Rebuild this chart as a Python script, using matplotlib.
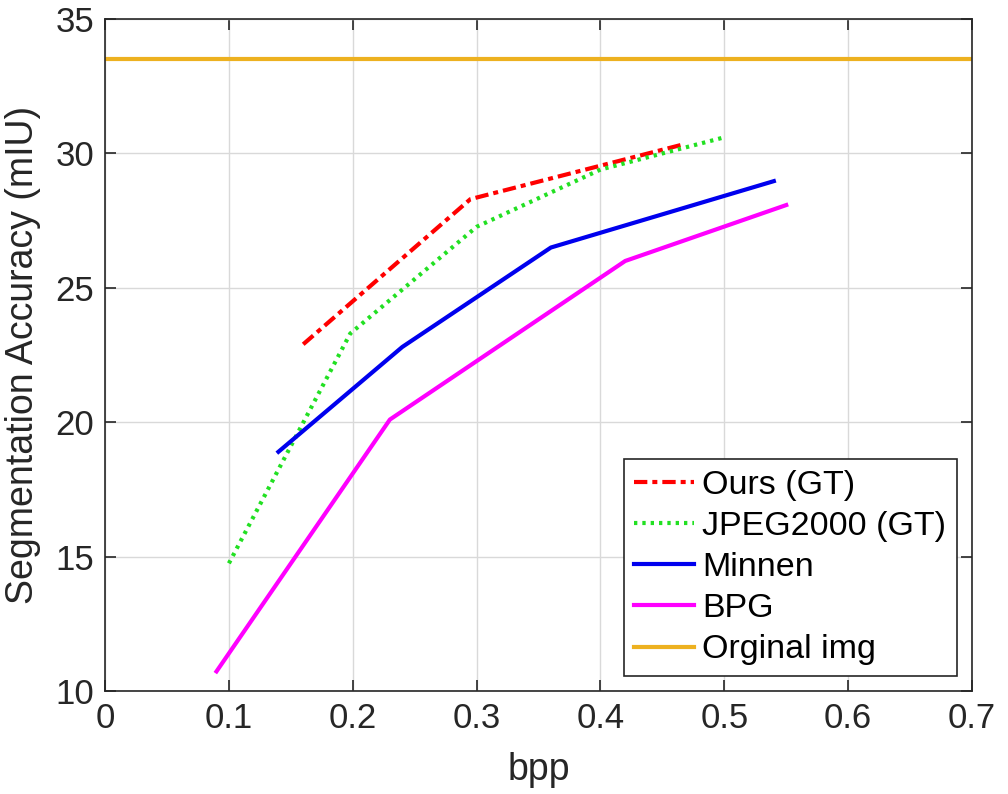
import matplotlib
matplotlib.use("Agg")
import matplotlib.pyplot as plt

plt.rcParams["font.family"] = ["Liberation Sans", "DejaVu Sans"]

# bpp vs segmentation mIoU
ours_bpp = [0.16, 0.295, 0.468]
ours_miou = [22.9, 28.3, 30.35]

jpeg_bpp = [0.10, 0.198, 0.30, 0.40, 0.50]
jpeg_miou = [14.75, 23.3, 27.27, 29.4, 30.6]

minnen_bpp = [0.14, 0.24, 0.36, 0.54]
minnen_miou = [18.9, 22.8, 26.5, 28.97]

bpg_bpp = [0.09, 0.23, 0.42, 0.55]
bpg_miou = [10.73, 20.1, 26.0, 28.08]

orig_miou = 33.5

TXT = "#262626"

fig = plt.figure(figsize=(10.08, 7.94), dpi=100)
ax = fig.add_axes([0.1042, 0.1297, 0.8601, 0.8463])

ax.plot(ours_bpp, ours_miou, color="red", linewidth=3.0,
        dashes=[3.2, 1.2, 1.2, 1.2], label="Ours (GT)")
ax.plot(jpeg_bpp, jpeg_miou, color="#22e022", linewidth=3.0,
        linestyle=(0, (0.8, 1.2)), label="JPEG2000 (GT)")
ax.plot(minnen_bpp, minnen_miou, color="#0000ee", linewidth=3.0, label="Minnen")
ax.plot(bpg_bpp, bpg_miou, color="#ff00ff", linewidth=3.0, label="BPG")
ax.axhline(orig_miou, color="#EDB120", linewidth=3.0, label="Orginal img")

ax.set_xlim(0, 0.7)
ax.set_ylim(10, 35)
ax.set_xticks([0, 0.1, 0.2, 0.3, 0.4, 0.5, 0.6, 0.7])
ax.set_xticklabels(["0", "0.1", "0.2", "0.3", "0.4", "0.5", "0.6", "0.7"])
ax.set_yticks([10, 15, 20, 25, 30, 35])

ax.grid(True, color="#d9d9d9", linewidth=1.0)
ax.set_axisbelow(True)
ax.tick_params(direction="in", length=8, width=1.2, labelsize=25,
               colors=TXT, top=True, right=True, pad=8)
for s in ax.spines.values():
    s.set_color(TXT)
    s.set_linewidth(1.2)

ax.set_xlabel("bpp", fontsize=27, color=TXT, labelpad=12)
ax.set_ylabel("Segmentation Accuracy (mIU)", fontsize=27, color=TXT, labelpad=10)

leg = ax.legend(loc="lower right", fontsize=24.5, handlelength=1.75,
                handletextpad=0.25, borderaxespad=0.45, labelspacing=0.3,
                fancybox=False, framealpha=1, edgecolor=TXT, borderpad=0.3)
leg.get_frame().set_linewidth(1.2)

fig.savefig("out.png", dpi=100)
